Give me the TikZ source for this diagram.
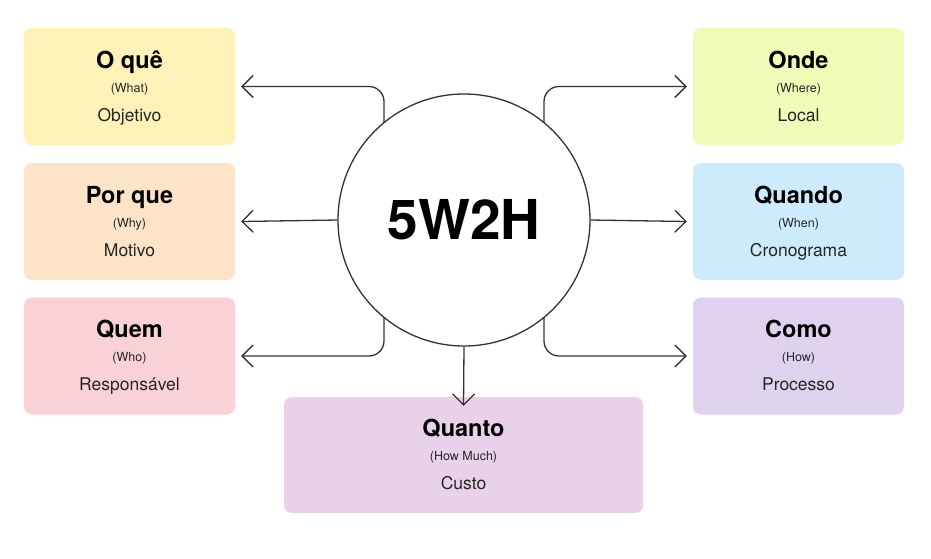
\documentclass[tikz,border=0pt]{standalone}
\usepackage{fontspec}
\setmainfont{TeX Gyre Heros}
\usetikzlibrary{arrows.meta,calc}
\definecolor{cyellow}{HTML}{FEF2B8}
\definecolor{corange}{HTML}{FDE3C8}
\definecolor{cpink}{HTML}{F9D1D7}
\definecolor{cgreen}{HTML}{EEFCB8}
\definecolor{cblue}{HTML}{CDEBFC}
\definecolor{clav}{HTML}{DED2EE}
\definecolor{cmauve}{HTML}{E9D1E9}
\definecolor{cline}{HTML}{333333}
\tikzset{
  card/.style={rectangle,rounded corners=8pt,minimum width=211pt,minimum height=117pt,draw=none,inner sep=0pt},
  wide/.style={card,minimum width=359pt,minimum height=116pt},
  ttl/.style={font=\fontsize{23.5}{27}\selectfont\bfseries,text=black,inner sep=0pt,anchor=base},
  sub/.style={font=\fontsize{12.5}{14}\selectfont,text=black!85,inner sep=0pt,anchor=base},
  desc/.style={font=\fontsize{17.5}{20}\selectfont,text=black!85,inner sep=0pt,anchor=base},
  conn/.style={draw=cline,line width=1.3pt,rounded corners=15pt,-{Straight Barb[length=11pt,width=22pt,line width=1.3pt]}},
}
\newcommand{\cardtext}[4]{%
  \node[ttl] (#1t) at ($(#1.center)+(0,-18.5)$) {#2};
  \node[sub] (#1s) at ($(#1.center)+(0,5.5)$) {#3};
  \node[desc] (#1d) at ($(#1.center)+(0,34.5)$) {#4};
}
\begin{document}
\begin{tikzpicture}[x=1pt,y=-1pt]
\fill[white] (0,0) rectangle (931,558);
\useasboundingbox (0,0) rectangle (931,558);
% cards
\node[card,fill=cyellow] (oque) at (129.5,86.5) {};
\node[card,fill=corange] (porque) at (129.5,221.5) {};
\node[card,fill=cpink] (quem) at (129.5,356) {};
\node[card,fill=cgreen] (onde) at (798.5,86.5) {};
\node[card,fill=cblue] (quando) at (798.5,221.5) {};
\node[card,fill=clav] (como) at (798.5,356) {};
\node[wide,fill=cmauve] (quanto) at (463.5,455) {};
\cardtext{oque}{O quê}{(What)}{Objetivo}
\cardtext{porque}{Por que}{(Why)}{Motivo}
\cardtext{quem}{Quem}{(Who)}{Responsável}
\cardtext{onde}{Onde}{(Where)}{Local}
\cardtext{quando}{Quando}{(When)}{Cronograma}
\cardtext{como}{Como}{(How)}{Processo}
\cardtext{quanto}{Quanto}{(How Much)}{Custo}
% circle
\node[circle,draw=cline,line width=1.3pt,fill=white,minimum size=252pt,inner sep=0pt,
      font=\fontsize{55}{58}\selectfont\bfseries] (c) at (464,220) {5W2H};
% connector points on circle
\coordinate (ptl) at ($(c.center)+(-80,-97.3)$);
\coordinate (pbl) at ($(c.center)+(-80,97.3)$);
\coordinate (ptr) at ($(c.center)+(80,-97.3)$);
\coordinate (pbr) at ($(c.center)+(80,97.3)$);
\draw[conn] (ptl) |- ([xshift=6pt]oque.east);
\draw[conn] (c.west) -- ([xshift=6pt]porque.east);
\draw[conn] (pbl) |- ([xshift=6pt]quem.east);
\draw[conn] (ptr) |- ([xshift=-6pt]onde.west);
\draw[conn] (c.east) -- ([xshift=-6pt]quando.west);
\draw[conn] (pbr) |- ([xshift=-6pt]como.west);
\draw[conn] (c.south) -- ([yshift=-9pt]quanto.north);
\end{tikzpicture}
\end{document}
